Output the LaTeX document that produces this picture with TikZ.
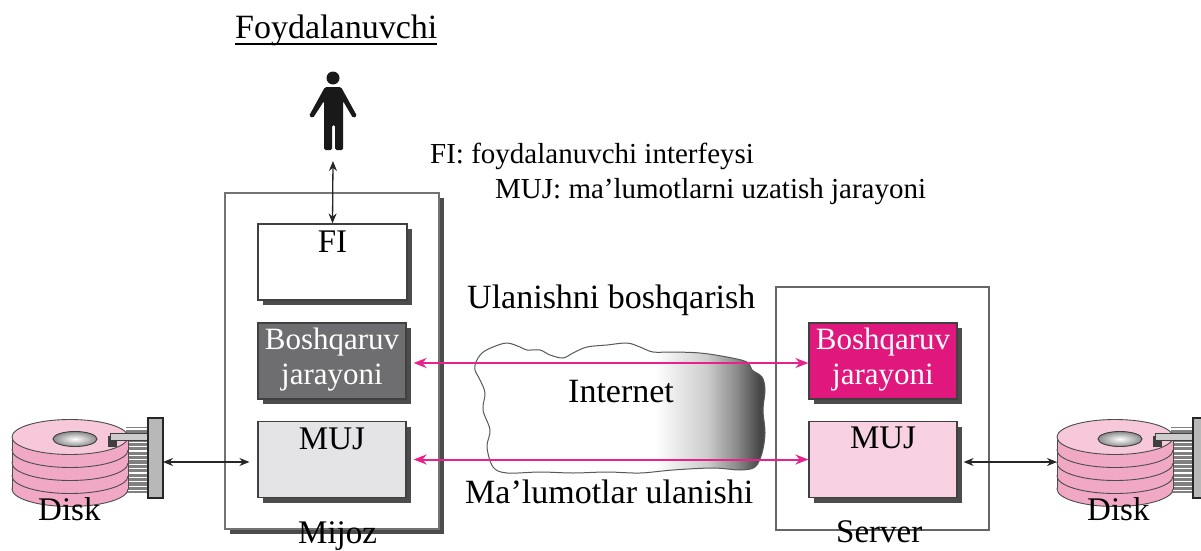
\documentclass[tikz,border=0pt]{standalone}
\usepackage{fontspec}
\setmainfont{Liberation Serif}
\usetikzlibrary{arrows.meta,shadows,calc}

\definecolor{ctrlgray}{HTML}{6E6E70}
\definecolor{datagray}{HTML}{E4E4E6}
\definecolor{ctrlpink}{HTML}{E0187E}
\definecolor{datapink}{HTML}{F8D2E2}
\definecolor{linkpink}{HTML}{E8228A}
\definecolor{diskside}{HTML}{F0A8C4}
\definecolor{disktop}{HTML}{F6C8DA}

% white on the left, darkening towards the right edge
\pgfdeclarehorizontalshading{cloudshade}{100bp}{color(0bp)=(white); color(25bp)=(white); color(56bp)=(white); color(65bp)=(black!20); color(70bp)=(black!45); color(74bp)=(black!72); color(100bp)=(black!72)}

\tikzset{
  procbox/.style={draw=black!75, line width=1.2pt, minimum width=148pt, minimum height=76pt,
    inner sep=0pt, drop shadow={shadow xshift=5pt, shadow yshift=-5pt, fill=black!70, opacity=1}},
  lbl/.style={inner sep=0pt, anchor=base west},
  boxlbl/.style={inner sep=0pt, anchor=base},
  big/.style={font=\fontsize{34}{40}\selectfont},
  mid/.style={font=\fontsize{33}{39}\selectfont},
  small/.style={font=\fontsize{29}{35}\selectfont},
  inbox/.style={font=\fontsize{31}{36}\selectfont},
  link/.style={draw=linkpink, line width=2pt,
    {Stealth[length=13pt,width=10pt]}-{Stealth[length=13pt,width=10pt]}},
  wire/.style={draw=black!85, line width=1.3pt,
    {Stealth[length=10pt,width=8pt]}-{Stealth[length=10pt,width=8pt]}},
  hdd/.pic={
    % head arms between platters
    \fill[black!50] (56,-10) rectangle (78,56);
    \foreach \k in {0,...,14} \draw[white, line width=1.2pt] (56,-8+\k*4.4) -- (78,-8+\k*4.4);
    % platter stack, drawn from the bottom up
    \foreach \c in {52,39,26,13} {
      \filldraw[fill=diskside, draw=black!70, line width=0.9pt] (0,\c) ellipse[x radius=58pt, y radius=17.5pt];
      \fill[diskside] (-58,\c-13) rectangle (58,\c);
      \draw[black!70, line width=0.9pt] (-58,\c-13) -- (-58,\c) (58,\c-13) -- (58,\c);
    }
    \filldraw[fill=disktop, draw=black!70, line width=0.9pt] (0,0) ellipse[x radius=58pt, y radius=17.5pt];
    % spindle hole
    \filldraw[inner color=white, outer color=black!45, draw=black!75, line width=0.9pt] (5,2) ellipse[x radius=22pt, y radius=7.5pt];
    % slot and read arm
    \fill[black!75] (38,-1) rectangle (47,10);
    \filldraw[fill=black!20, draw=black!75, line width=0.8pt] (40,-4) rectangle (78,3);
    % actuator block
    \filldraw[fill=black!28, draw=black!85, line width=1.2pt] (78,-19) rectangle (93,61);
    \coordinate (port) at (93,25);
    \coordinate (west) at (-58,25);
  }
}

\begin{document}
\begin{tikzpicture}[x=1pt,y=-1pt]
\useasboundingbox (0,0) rectangle (1201,551);
\fill[white] (0,0) rectangle (1201,551);

% host frames
\node[draw=black!55, line width=2pt, minimum width=214pt, minimum height=336pt, inner sep=0pt, fill=white,
  drop shadow={shadow xshift=5pt, shadow yshift=-5pt, fill=black!70, opacity=1}] (client) at (332,361) {};
\node[draw=black!60, line width=1.5pt, minimum width=213pt, minimum height=243pt, inner sep=0pt] (server) at (882.5,408.5) {};

% the network cloud
\shade[shading=cloudshade, draw=black!65, line width=1pt] plot[smooth cycle, tension=0.55] coordinates {
  (476,362) (482,353) (493,347) (507,343) (520,347) (527,350) (540,350) (550,355) (563,358)
  (573,353) (587,347) (607,345) (627,343) (640,347) (653,352) (673,352) (700,353) (727,357)
  (747,362) (752,370) (762,377) (765,390) (763,410) (765,433) (762,453) (755,467) (740,470)
  (713,468) (673,470) (640,473) (607,472) (573,473) (540,472) (507,473) (493,467) (487,447)
  (490,430) (483,410) (485,393) (480,380) (475,370)};

% process boxes
\node[procbox, fill=white, minimum width=149pt] (fi) at (332.5,262) {};
\node[procbox, fill=ctrlgray] (cb) at (332,361) {};
\node[procbox, fill=datagray] (cm) at (332,459.5) {};
\node[procbox, fill=ctrlpink] (sb) at (883,361) {};
\node[procbox, fill=datapink] (sm) at (883,459.5) {};

% box labels
\node[boxlbl, mid] (fitext) at ($(fi.north)+(0,29)$) {FI};
\node[boxlbl, inbox, text=white] (cbtext1) at ($(cb.north)+(0,27)$) {Boshqaruv};
\node[boxlbl, inbox, text=white] (cbtext2) at ($(cb.north)+(0,62)$) {jarayoni};
\node[boxlbl, mid] (cmtext) at ($(cm.north)+(0,29)$) {MUJ};
\node[boxlbl, inbox, text=white] (sbtext1) at ($(sb.north)+(0,27)$) {Boshqaruv};
\node[boxlbl, inbox, text=white] (sbtext2) at ($(sb.north)+(0,62)$) {jarayoni};
\node[boxlbl, mid] (smtext) at ($(sm.north)+(0,28)$) {MUJ};

% the user
\fill[black!90] (333,78) circle[radius=6.5pt];
\fill[black!90, rounded corners=1.5pt] (325,87) -- (341,87) -- (357,116) -- (353,118) -- (343,101)
  -- (343,150) -- (335,150) -- (335,125) -- (332,125) -- (332,150) -- (324,150) -- (324,101)
  -- (313,118) -- (309,116) -- cycle;
\coordinate (userfeet) at (333,161);
\draw[wire] (userfeet) -- (fi.north);

% disks
\pic (L) at (70,437) {hdd};
\pic (R) at (1115,437) {hdd};

% connections
\draw[link] ([xshift=7pt,yshift=-2pt]cb.east) -- ([yshift=-2pt]sb.west);
\draw[link] ([xshift=7pt]cm.east) -- (sm.west);
\draw[wire] (Lport) -- ([xshift=-8pt]cm.west |- Lport);
\draw[wire] ([xshift=6pt]sm.east |- Rwest) -- (Rwest);

% texts
\node[lbl, big] (user) at (235,38) {Foydalanuvchi};
\draw[line width=1.8pt] ([yshift=-6pt]user.base west) -- ([yshift=-6pt]user.base east);
\node[lbl, small] (legfi) at (430,163) {FI: foydalanuvchi interfeysi};
\node[lbl, small] (legmuj) at (495,198) {MUJ: ma’lumotlarni uzatish jarayoni};
\node[lbl, big] (ctrl) at (467,308) {Ulanishni boshqarish};
\node[lbl, big] (inet) at (568,402) {Internet};
\node[lbl, big] (data) at (465,503) {Ma’lumotlar ulanishi};
\node[lbl, mid] (ldisk) at (38,520) {Disk};
\node[lbl, mid] (rdisk) at (1087,520) {Disk};
\node[lbl, mid] (mijoz) at (298,543) {Mijoz};
\node[lbl, mid] (servertext) at (836,542) {Server};
\end{tikzpicture}
\end{document}
